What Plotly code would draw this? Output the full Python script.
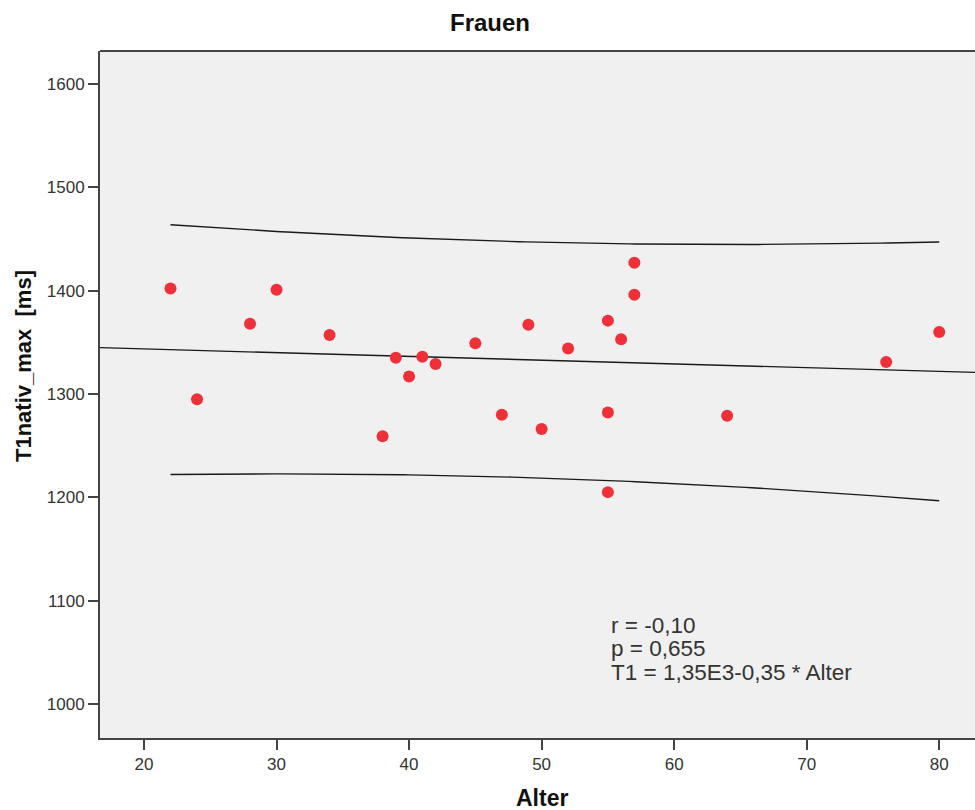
import numpy as np
import plotly.graph_objects as go

# ---- data ----
alter = [22, 24, 28, 30, 34, 38, 39, 40, 41, 42, 45, 47, 49, 50, 52,
         55, 55, 55, 56, 57, 57, 64, 76, 80]
t1_max = [1402, 1295, 1368, 1401, 1357, 1259, 1335, 1317, 1336, 1329, 1349, 1280, 1367, 1266, 1344,
          1371, 1282, 1205, 1353, 1427, 1396, 1279, 1331, 1360]

x_ticks = [20, 30, 40, 50, 60, 70, 80]
y_ticks = [1000, 1100, 1200, 1300, 1400, 1500, 1600]
x_range = [16.68, 82.7]
y_range = [967, 1632]

title_text = "Frauen"
x_title = "Alter"
y_title = "T1nativ_max \u00a0[ms]"
stats_lines = ["r = -0,10", "p = 0,655", "T1 = 1,35E3-0,35 * Alter"]
t_crit = 2.0739  # t(0.975, df = n-2 = 22)

# ---- regression and 95% prediction interval ----
x = np.array(alter, dtype=float)
y = np.array(t1_max, dtype=float)
n = len(x)
slope, intercept = np.polyfit(x, y, 1)
resid = y - (intercept + slope * x)
s = np.sqrt(np.sum(resid ** 2) / (n - 2))
xm = x.mean()
sxx = np.sum((x - xm) ** 2)

xl = np.array(x_range)
yl = intercept + slope * xl

xb = np.linspace(x.min(), x.max(), 120)
yb = intercept + slope * xb
half = t_crit * s * np.sqrt(1 + 1 / n + (xb - xm) ** 2 / sxx)

FONT = "Liberation Sans, Arial, sans-serif"
line_style = dict(color="#1a1a1a", width=1.4)

fig = go.Figure()
fig.add_trace(go.Scatter(x=xb, y=yb + half, mode="lines", line=line_style, hoverinfo="skip"))
fig.add_trace(go.Scatter(x=xb, y=yb - half, mode="lines", line=line_style, hoverinfo="skip"))
fig.add_trace(go.Scatter(x=xl, y=yl, mode="lines", line=line_style, hoverinfo="skip"))
fig.add_trace(go.Scatter(x=alter, y=t1_max, mode="markers",
                         marker=dict(size=12, color="#EF3039", line=dict(width=0))))

axis_common = dict(showgrid=False, zeroline=False, showline=True, linecolor="#444444", linewidth=2,
                   ticks="outside", ticklen=10, tickwidth=2, tickcolor="#444444",
                   tickfont=dict(family=FONT, size=17, color="#333333"))

fig.update_layout(
    width=975, height=810,
    margin=dict(l=100, r=0, t=51, b=72, pad=0),
    paper_bgcolor="white", plot_bgcolor="#F0F0F0",
    showlegend=False,
    xaxis=dict(range=x_range, tickvals=x_ticks, **axis_common),
    yaxis=dict(range=y_range, tickvals=y_ticks, **axis_common),
    shapes=[dict(type="line", xref="paper", yref="paper", x0=0, x1=1, y0=1, y1=1,
                 line=dict(color="#444444", width=2))],
)

fig.add_annotation(text=f"<b>{title_text}</b>", xref="paper", yref="paper",
                   x=(490 - 100) / 875, y=1 + (51 - 23) / 687, xanchor="center", yanchor="middle",
                   showarrow=False, font=dict(family=FONT, size=24, color="#111111"))
fig.add_annotation(text=f"<b>{x_title}</b>", xref="paper", yref="paper",
                   x=(541.7 - 100) / 875, y=(738 - 798) / 687, xanchor="center", yanchor="middle",
                   showarrow=False, font=dict(family=FONT, size=23, color="#111111"))
fig.add_annotation(text=f"<b>{y_title}</b>", xref="paper", yref="paper",
                   x=(23 - 100) / 875, y=(738 - 366) / 687, xanchor="center", yanchor="middle",
                   textangle=-90, showarrow=False, font=dict(family=FONT, size=22, color="#111111"))

for i, line in enumerate(stats_lines):
    ypix = 625 + i * 23.8
    fig.add_annotation(text=line, xref="paper", yref="paper",
                       x=(609 - 100) / 875, y=(738 - ypix) / 687, xanchor="left", yanchor="middle",
                       showarrow=False, font=dict(family=FONT, size=22.5, color="#333333"))

# remove the default page margin so the figure sits at the window's top-left corner
fig.write_html("out.html",
               config={"displayModeBar": False},
               post_script="document.body.style.margin='0';document.documentElement.style.overflow='hidden';")
